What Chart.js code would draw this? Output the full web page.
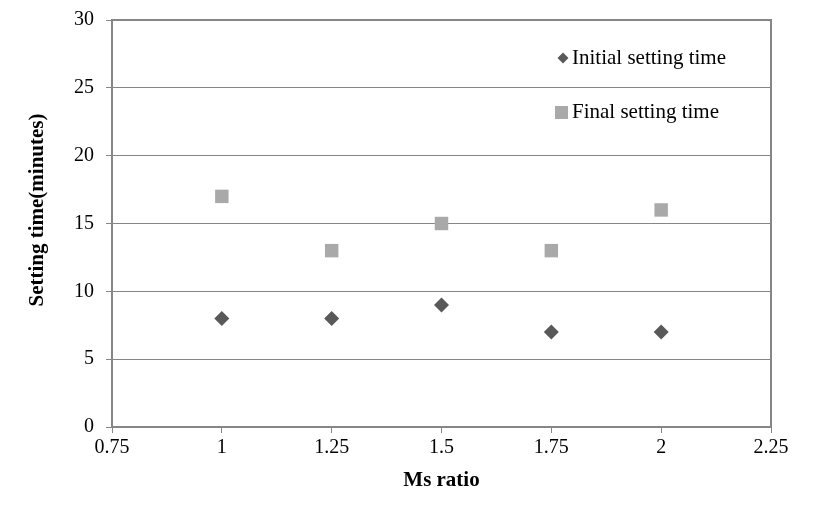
<!DOCTYPE html>
<html>
<head>
<meta charset="utf-8">
<script src="https://cdn.jsdelivr.net/npm/chart.js@4.4.0/dist/chart.umd.min.js"></script>
<style>
  html, body { margin: 0; padding: 0; background: #fff; }
  #wrap { width: 821px; height: 508px; }
</style>
</head>
<body>
<div id="wrap"><canvas id="settingChart" width="821" height="508"></canvas></div>
<script>
// valores
const msRatio = [1, 1.25, 1.5, 1.75, 2];
const initialTime = [8, 8, 9, 7, 7];
const finalTime = [17, 13, 15, 13, 16];
const seriesNames = ['Initial setting time', 'Final setting time'];
const yTitle = 'Setting time(minutes)';

const fontFamily = '"Liberation Serif", "Times New Roman", serif';
const gridColor = '#868686';

// moldura da área do gráfico, título do eixo Y e legenda dentro do gráfico
const frameAndLegend = {
  id: 'frameAndLegend',
  afterDraw(chart) {
    const { ctx, chartArea: a } = chart;
    ctx.save();
    ctx.strokeStyle = gridColor;
    ctx.lineWidth = 2;
    ctx.beginPath();
    ctx.moveTo(a.left, a.top);
    ctx.lineTo(a.right, a.top);
    ctx.lineTo(a.right, a.bottom);
    ctx.stroke();

    // título do eixo Y (um pouco acima do centro, como no original)
    ctx.save();
    ctx.translate(38, 210);
    ctx.rotate(-Math.PI / 2);
    ctx.font = 'bold 21px ' + fontFamily;
    ctx.fillStyle = '#000';
    ctx.textAlign = 'center';
    ctx.textBaseline = 'middle';
    ctx.fillText(yTitle, 0, 0);
    ctx.restore();

    ctx.font = '21px ' + fontFamily;
    ctx.textBaseline = 'middle';
    const items = [
      { y: 58, ds: chart.data.datasets[0], style: 'diamond' },
      { y: 112, ds: chart.data.datasets[1], style: 'square' }
    ];
    items.forEach(it => {
      ctx.fillStyle = it.ds.backgroundColor;
      if (it.style === 'diamond') {
        ctx.beginPath();
        ctx.moveTo(563, it.y - 5.5);
        ctx.lineTo(568.5, it.y);
        ctx.lineTo(563, it.y + 5.5);
        ctx.lineTo(557.5, it.y);
        ctx.closePath();
        ctx.fill();
      } else {
        ctx.fillRect(555, it.y - 6, 13, 13);
      }
      ctx.fillStyle = '#000';
      ctx.fillText(it.ds.label, 572, it.y);
    });
    ctx.restore();
  }
};

const fmt = v => String(Number(v.toFixed(2)));

new Chart(document.getElementById('settingChart'), {
  type: 'scatter',
  data: {
    datasets: [
      {
        label: seriesNames[0],
        data: msRatio.map((x, i) => ({ x: x, y: initialTime[i] })),
        pointStyle: 'rectRot',
        pointRadius: 7.5,
        backgroundColor: '#595959',
        borderColor: '#595959',
        borderWidth: 0
      },
      {
        label: seriesNames[1],
        data: msRatio.map((x, i) => ({ x: x, y: finalTime[i] })),
        pointStyle: 'rect',
        pointRadius: 9.5,
        backgroundColor: '#a9a9a9',
        borderColor: '#a9a9a9',
        borderWidth: 0
      }
    ]
  },
  options: {
    responsive: false,
    animation: false,
    layout: { padding: { top: 16, right: 50, left: 0, bottom: 0 } },
    plugins: {
      legend: { display: false },
      tooltip: { enabled: false }
    },
    scales: {
      x: {
        type: 'linear',
        min: 0.75,
        max: 2.25,
        afterFit(scale) { scale.height = 81; },
        ticks: {
          stepSize: 0.25,
          color: '#000',
          padding: 3,
          maxRotation: 0,
          callback: fmt,
          font: { family: fontFamily, size: 20 }
        },
        grid: {
          drawOnChartArea: false,
          drawTicks: true,
          tickLength: 6,
          color: gridColor,
          lineWidth: 1
        },
        border: { color: gridColor, width: 2 },
        title: {
          display: true,
          text: 'Ms ratio',
          color: '#000',
          font: { family: fontFamily, size: 21, weight: 'bold' },
          padding: { top: 0, bottom: 15 }
        }
      },
      y: {
        min: 0,
        max: 30,
        afterFit(scale) { scale.width = 112; },
        ticks: {
          stepSize: 5,
          color: '#000',
          padding: 12,
          font: { family: fontFamily, size: 20, lineHeight: 0.8 }
        },
        grid: {
          color: gridColor,
          lineWidth: 1,
          tickLength: 6
        },
        border: { color: gridColor, width: 2 }
      }
    }
  },
  plugins: [frameAndLegend]
});
</script>
</body>
</html>
